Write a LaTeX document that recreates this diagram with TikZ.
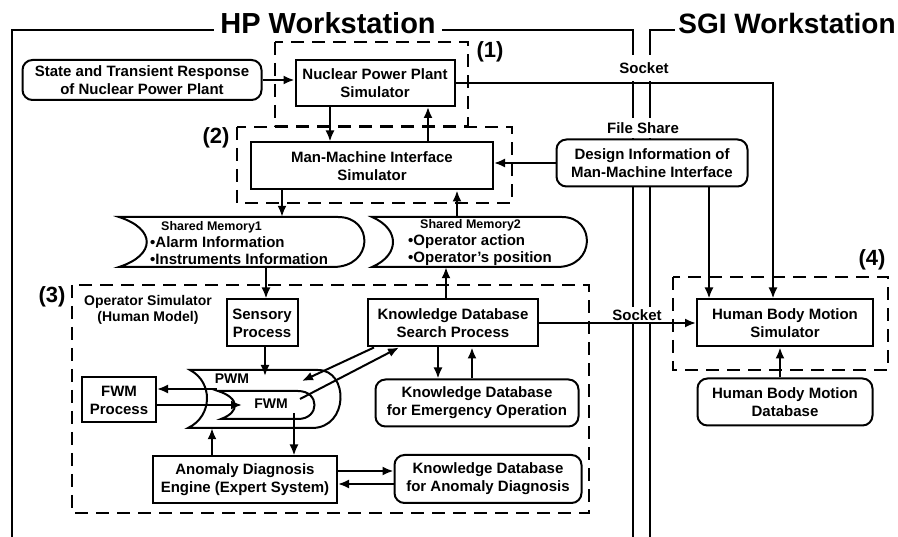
\documentclass[tikz,border=0pt]{standalone}
\usepackage{fontspec}
\setmainfont{Liberation Sans}
\usetikzlibrary{arrows.meta}

\begin{document}
\begin{tikzpicture}[x=1pt, y=-1pt,
  box/.style={draw, line width=2pt, fill=white, align=center, inner sep=0pt,
    font=\bfseries\fontsize{15}{18}\selectfont},
  rbox/.style={box, rounded corners=10pt},
  arr/.style={line width=2pt, -{Latex[length=11pt,width=9pt]}},
  frame/.style={line width=2.8pt},
  region/.style={line width=2.5pt, dash pattern=on 13pt off 8pt},
  memline/.style={line width=2pt},
  lbl/.style={font=\bfseries\fontsize{15}{18}\selectfont, inner sep=1pt},
  memtxt/.style={font=\bfseries\fontsize{15}{17}\selectfont, align=left, inner sep=0pt},
  tag/.style={font=\bfseries\fontsize{22}{24}\selectfont, inner sep=0pt}]

\useasboundingbox (0,0) rectangle (898,537);

% Workstation frames
\node[font=\bfseries\fontsize{29}{32}\selectfont, inner sep=0pt] (hp) at (328,23) {HP Workstation};
\node[font=\bfseries\fontsize{28}{32}\selectfont, inner sep=0pt] (sgi) at (787,23) {SGI Workstation};
\coordinate (hpL) at (12,30);
\coordinate (hpR) at (633,30);
\coordinate (sgiL) at (650,30);
\draw[frame] (hpL |- 0,537) -- (hpL) -- ([xshift=-6pt]hp.west |- hpL);
\draw[frame] ([xshift=6pt]hp.east |- hpL) -- (hpR) -- (hpR |- 0,537);
\draw[frame] (sgiL |- 0,537) -- (sgiL) -- ([xshift=-3pt]sgi.west |- sgiL);

% Links between the workstations
\node[lbl, fill=white, minimum height=26pt] (sock1) at (644,68) {Socket};
\node[lbl, fill=white, minimum height=20pt] (fshare) at (643,128) {File Share};
\node[lbl, fill=white, minimum height=16pt] (sock2) at (637,315) {Socket};

% Regions (1)-(4)
\draw[region] (275,42) rectangle (468,126);
\draw[region] (237,127) rectangle (512,203);
\draw[region] (72,285) rectangle (589,513);
\draw[region] (673,277) rectangle (888,370);
\node[tag] (t1) at (490,52) {(1)};
\node[tag] (t2) at (216,138) {(2)};
\node[tag] (t3) at (52,297) {(3)};
\node[tag] (t4) at (872,260) {(4)};

% Shared memories
\draw[memline] (119,217) -- (338,217) .. controls (374,217) and (374,267) .. (333,267) -- (119,267) .. controls (156,255) and (156,229) .. cycle;
\draw[memline] (372,217) -- (562,217) .. controls (596,217) and (596,267) .. (557,267) -- (372,267) .. controls (400,255) and (400,229) .. cycle;
\node[inner sep=0pt, minimum width=246pt, minimum height=50pt] (sm1) at (242,242) {};
\node[inner sep=0pt, minimum width=215pt, minimum height=50pt] (sm2) at (479.5,242) {};
\node[memtxt, anchor=west] (sm1txt) at (150,243) {\hspace*{11pt}{\fontsize{12.5}{15}\selectfont Shared Memory1}\\\textbullet Alarm Information\\\textbullet Instruments Information};
\node[memtxt, anchor=west] (sm2txt) at (408,243) {\hspace*{12pt}{\fontsize{12.5}{15}\selectfont Shared Memory2}\\\textbullet Operator action\\\textbullet Operator's position};

% PWM / FWM
\draw[memline] (190,370) -- (318,370) .. controls (349,370) and (349,428) .. (312,428) -- (188,428) .. controls (213,416) and (213,382) .. cycle;
\draw[memline] (218,391) -- (298,391) .. controls (320,391) and (320,419) .. (298,419) -- (221,419) .. controls (240,412) and (240,398) .. cycle;
\node[inner sep=0pt, minimum width=148pt, minimum height=59pt] (pwm) at (264,398.5) {};
\node[lbl, font=\bfseries\fontsize{14}{16}\selectfont] (pwmtxt) at (232,379) {PWM};
\node[lbl, font=\bfseries\fontsize{14}{16}\selectfont] (fwmtxt) at (271,404) {FWM};
\coordinate (pwmTop) at (265,376);
\coordinate (pwmIn) at (302,381);
\coordinate (fwmOut) at (300,399);
\coordinate (fwmBot) at (294,413);
\coordinate (pwmOut) at (217,389);
\coordinate (fwmIn) at (242,405);

% Boxes
\node[rbox, minimum width=239pt, minimum height=40pt] (state) at (142,80) {State and Transient Response\\of Nuclear Power Plant};
\node[box, minimum width=159pt, minimum height=46pt] (npp) at (375,83) {Nuclear Power Plant\\Simulator};
\node[box, minimum width=242pt, minimum height=47pt] (mmi) at (372,166) {Man-Machine Interface\\Simulator};
\node[rbox, minimum width=191pt, minimum height=47pt] (design) at (652,163) {Design Information of\\Man-Machine Interface};
\node[font=\bfseries\fontsize{14}{16}\selectfont, align=center, inner sep=0pt] (opsim) at (148,310) {Operator Simulator\\(Human Model)};
\node[box, minimum width=71pt, minimum height=47pt] (sens) at (262,323) {Sensory\\Process};
\node[box, minimum width=170pt, minimum height=47pt] (kdbs) at (453,323) {Knowledge Database\\Search Process};
\node[box, minimum width=74pt, minimum height=45pt] (fwmp) at (119,400) {FWM\\Process};
\node[rbox, minimum width=203pt, minimum height=47pt] (kdbe) at (477,403) {Knowledge Database\\for Emergency Operation};
\node[box, minimum width=184pt, minimum height=47pt] (ade) at (245,480) {Anomaly Diagnosis\\Engine (Expert System)};
\node[rbox, minimum width=187pt, minimum height=48pt] (kdba) at (488,479) {Knowledge Database\\for Anomaly Diagnosis};
\node[box, minimum width=176pt, minimum height=47pt] (hbms) at (785,323) {Human Body Motion\\Simulator};
\node[rbox, minimum width=175pt, minimum height=47pt] (hbmd) at (785,402) {Human Body Motion\\Database};

% Arrows, upper part
\draw[arr] (state.east) -- (state.east -| npp.west);
\draw[arr] ([xshift=-45pt]npp.south) -- ([xshift=-45pt]npp.south |- mmi.north);
\draw[arr] ([xshift=56pt]mmi.north) -- ([xshift=56pt]mmi.north |- npp.south);
\draw[arr] (design.west) -- (design.west -| mmi.east);
\draw[arr] (npp.east) -| ([xshift=-12pt]hbms.north);
\draw[arr] ([xshift=57pt]design.south) -- ([xshift=57pt]design.south |- hbms.north);
\draw[arr] ([xshift=-90pt]mmi.south) -- ([xshift=-90pt]mmi.south |- sm1.north);
\draw[arr] ([xshift=85pt]mmi.south |- sm2.north) -- ([xshift=85pt]mmi.south);
\draw[arr] ([xshift=4pt]sens.north |- sm1.south) -- ([xshift=4pt]sens.north);
\draw[arr] ([xshift=-7pt]kdbs.north) -- ([xshift=-7pt]kdbs.north |- sm2.south);
\draw[arr] (kdbs.east) -- (kdbs.east -| hbms.west);
\draw[arr] ([xshift=-5pt]hbmd.north) -- ([xshift=-5pt]hbmd.north |- hbms.south);

% Arrows, operator simulator
\draw[arr] (sens.south -| pwmTop) -- (pwmTop);
\draw[arr] ([xshift=7pt]kdbs.south west) -- (pwmIn);
\draw[arr] (fwmOut) -- ([xshift=32pt]kdbs.south west);
\draw[arr] (pwmOut) -- (pwmOut -| fwmp.east);
\draw[arr] (fwmIn -| fwmp.east) -- (fwmIn);
\draw[arr] (fwmBot) -- (fwmBot |- ade.north);
\draw[arr] ([xshift=-33pt]ade.north) -- ([xshift=-33pt]ade.north |- pwm.south);
\draw[arr] ([yshift=9pt]ade.east) -- ([yshift=9pt]ade.east -| kdba.west);
\draw[arr] ([yshift=-5pt]kdba.west) -- ([yshift=-5pt]kdba.west -| ade.east);
\draw[arr] ([xshift=-15pt]kdbs.south) -- ([xshift=-15pt]kdbs.south |- kdbe.north);
\draw[arr] ([xshift=19pt]kdbs.south |- kdbe.north) -- ([xshift=19pt]kdbs.south);
\end{tikzpicture}
\end{document}
